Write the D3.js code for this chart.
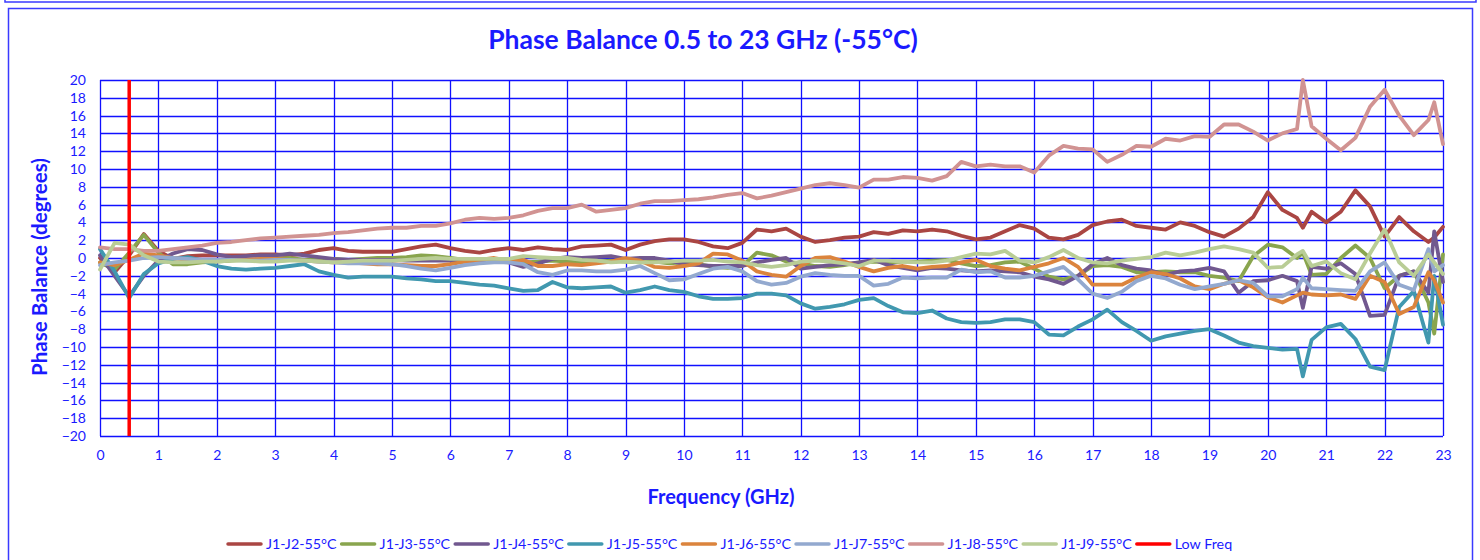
<!DOCTYPE html>
<html>
<head>
<meta charset="utf-8">
<script src="https://cdn.jsdelivr.net/npm/d3@7"></script>
<style>
  body { margin: 0; background: white; }
  text { font-family: Lato, "Open Sans", sans-serif; fill: #1a1aff; }
</style>
</head>
<body>
<div id="chart"></div>
<script>
// Frequency points (GHz)
const freq = [
  0, 0.25, 0.5, 0.75, 1, 1.25, 1.5, 1.75, 2, 2.25, 2.5, 2.75,
  3, 3.25, 3.5, 3.75, 4, 4.25, 4.5, 4.75, 5, 5.25, 5.5, 5.75,
  6, 6.25, 6.5, 6.75, 7, 7.25, 7.5, 7.75, 8, 8.25, 8.5, 8.75,
  9, 9.25, 9.5, 9.75, 10, 10.25, 10.5, 10.75, 11, 11.25, 11.5, 11.75,
  12, 12.25, 12.5, 12.75, 13, 13.25, 13.5, 13.75, 14, 14.25, 14.5, 14.75,
  15, 15.25, 15.5, 15.75, 16, 16.25, 16.5, 16.75, 17, 17.25, 17.5, 17.75,
  18, 18.25, 18.5, 18.75, 19, 19.25, 19.5, 19.75, 20, 20.25, 20.5, 20.6, 20.75,
  21, 21.25, 21.5, 21.75, 22, 22.25, 22.5, 22.75, 22.85, 23
];

// Phase balance values (degrees), one array per port pair
const j2 = [
  0.0, -1.6, 0.3, 2.7, 0.8, -0.1, 0.2, 0.3, 0.3, 0.3, 0.3, 0.4,
  0.4, 0.3, 0.5, 0.9, 1.1, 0.8, 0.7, 0.7, 0.7, 1.0, 1.3, 1.5,
  1.1, 0.8, 0.6, 0.9, 1.1, 0.9, 1.2, 1.0, 0.9, 1.3, 1.4, 1.5,
  0.9, 1.5, 1.9, 2.1, 2.1, 1.8, 1.3, 1.1, 1.7, 3.2, 3.0, 3.3,
  2.4, 1.8, 2.0, 2.3, 2.4, 2.9, 2.7, 3.1, 3.0, 3.2, 3.0, 2.5,
  2.1, 2.3, 3.0, 3.7, 3.3, 2.3, 2.1, 2.6, 3.7, 4.1, 4.3, 3.6,
  3.4, 3.2, 4.0, 3.6, 2.9, 2.4, 3.3, 4.6, 7.4, 5.4, 4.5, 3.4, 5.2,
  4.0, 5.2, 7.6, 5.8, 2.4, 4.6, 3.0, 1.8, 2.3, 3.5
];
const j3 = [
  -0.5, -1.3, 0.6, 2.6, 0.6, -0.7, -0.7, -0.5, -0.4, -0.3, -0.2, -0.2,
  -0.1, 0.0, -0.2, -0.1, -0.1, -0.2, -0.1, 0.0, 0.0, 0.1, 0.3, 0.2,
  0.0, -0.2, -0.3, -0.4, -0.3, -0.5, -0.4, -0.3, -0.4, -0.5, -0.4, -0.3,
  -0.4, -0.5, -0.4, -0.6, -0.5, -0.7, -1.0, -1.1, -0.9, 0.6, 0.3, -0.4,
  -0.6, -0.9, -1.0, -0.8, -0.5, -0.4, -0.5, -0.4, -0.4, -0.3, -0.2, -0.6,
  -0.9, -0.8, -0.5, -0.4, -1.2, -2.1, -2.4, -2.0, -0.9, -0.8, -1.0, -1.6,
  -1.6, -1.5, -1.6, -1.6, -2.0, -2.2, -2.6, 0.2, 1.5, 1.2, 0.0, 0.6, -1.9,
  -1.8, 0.0, 1.4, 0.0, -3.4, -2.0, -1.5, -5.0, -8.5, 0.4
];
const j4 = [
  0.3, -2.0, -4.3, -2.0, -0.3, 0.5, 1.0, 0.9, 0.4, 0.1, 0.2, 0.3,
  0.3, 0.5, 0.3, 0.1, -0.1, -0.2, -0.2, -0.2, -0.2, -0.3, -0.3, -0.3,
  -0.3, -0.4, -0.4, -0.4, -0.5, -1.0, -0.6, -0.1, 0.1, 0.0, 0.1, 0.2,
  -0.1, 0.0, 0.0, -0.3, -0.7, -0.8, -0.9, -0.9, -0.9, -0.5, -0.2, 0.0,
  -1.2, -1.0, -0.8, -0.7, -0.5, -0.2, -0.8, -1.1, -1.4, -1.1, -1.2, -1.4,
  -1.5, -1.4, -1.5, -1.6, -2.1, -2.4, -2.9, -2.0, -0.7, 0.0, -0.8, -1.2,
  -1.4, -1.9, -1.5, -1.4, -1.1, -1.5, -3.9, -2.6, -2.5, -2.0, -2.6, -5.6, -1.0,
  -1.2, -0.6, -1.8, -6.5, -6.4, -2.0, -1.5, -3.9, 3.0, -2.7
];
const j5 = [
  1.0, -1.5, -4.5, -1.8, -0.6, -0.1, 0.1, -0.3, -0.9, -1.2, -1.3, -1.2,
  -1.1, -0.9, -0.7, -1.5, -1.9, -2.2, -2.1, -2.1, -2.1, -2.3, -2.4, -2.6,
  -2.6, -2.8, -3.0, -3.1, -3.4, -3.7, -3.6, -2.7, -3.3, -3.4, -3.3, -3.2,
  -3.9, -3.6, -3.2, -3.6, -3.8, -4.3, -4.6, -4.6, -4.5, -4.0, -4.0, -4.2,
  -5.1, -5.7, -5.5, -5.2, -4.7, -4.5, -5.4, -6.1, -6.2, -5.9, -6.8, -7.2,
  -7.3, -7.2, -6.9, -6.9, -7.2, -8.6, -8.7, -7.7, -6.9, -5.8, -7.2, -8.2,
  -9.3, -8.8, -8.5, -8.2, -8.0, -8.7, -9.5, -9.9, -10.1, -10.3, -10.2, -13.3, -9.2,
  -7.8, -7.4, -9.1, -12.2, -12.6, -5.5, -3.7, -9.5, -2.0, -7.5
];
const j6 = [
  -0.5, -0.8, -0.2, 0.5, 0.3, 0.0, -0.2, -0.3, -0.3, -0.2, -0.2, -0.1,
  -0.1, -0.2, -0.3, -0.4, -0.5, -0.5, -0.6, -0.7, -0.7, -0.8, -0.9, -0.9,
  -0.7, -0.4, -0.2, 0.0, -0.3, -0.2, -0.9, -0.9, -0.7, -0.8, -0.6, -0.4,
  0.0, -0.3, -1.0, -1.1, -0.9, -0.6, 0.5, 0.4, -0.3, -1.5, -1.9, -2.1,
  -0.9, 0.0, 0.1, -0.4, -1.0, -1.5, -1.1, -0.9, -1.2, -1.0, -0.9, -0.5,
  -0.2, -0.9, -1.2, -1.4, -1.0, -0.6, 0.0, -1.0, -3.0, -3.0, -3.0, -2.2,
  -1.6, -1.8, -2.3, -3.2, -3.5, -2.9, -2.5, -3.3, -4.4, -5.0, -4.2, -3.9, -4.1,
  -4.2, -4.1, -4.6, -2.0, -2.7, -6.3, -5.5, -1.6, -2.5, -5.0
];
const j7 = [
  -0.8, -0.5, -0.3, 0.0, 0.1, 0.0, -0.1, -0.2, -0.2, -0.2, -0.3, -0.3,
  -0.2, -0.2, -0.3, -0.4, -0.5, -0.6, -0.6, -0.6, -0.7, -0.9, -1.2, -1.4,
  -1.1, -0.8, -0.6, -0.5, -0.5, -0.7, -1.6, -1.9, -1.4, -1.4, -1.5, -1.5,
  -1.3, -0.9, -1.7, -2.5, -2.4, -1.8, -1.2, -1.0, -1.5, -2.6, -3.0, -2.8,
  -2.1, -1.7, -1.9, -2.0, -2.0, -3.1, -2.9, -2.2, -2.3, -2.2, -2.2, -1.3,
  -1.6, -1.5, -2.2, -2.2, -2.0, -1.5, -1.0, -2.4, -4.0, -4.5, -3.8, -2.6,
  -2.0, -2.3, -3.0, -3.5, -3.2, -2.9, -2.5, -2.8, -4.3, -4.3, -3.5, -2.2, -3.4,
  -3.5, -3.6, -3.7, -1.5, -0.5, -3.0, -3.6, 1.0, -1.5, -0.8
];
const j8 = [
  1.2, 1.0, 1.0, 0.8, 0.8, 1.0, 1.2, 1.4, 1.7, 1.8, 2.0, 2.2,
  2.3, 2.4, 2.5, 2.6, 2.8, 2.9, 3.1, 3.3, 3.4, 3.4, 3.6, 3.6,
  3.9, 4.3, 4.5, 4.4, 4.5, 4.8, 5.3, 5.6, 5.6, 6.0, 5.2, 5.4,
  5.6, 6.1, 6.4, 6.4, 6.5, 6.6, 6.8, 7.1, 7.3, 6.7, 7.0, 7.4,
  7.8, 8.2, 8.4, 8.2, 7.9, 8.8, 8.8, 9.1, 9.0, 8.7, 9.2, 10.8,
  10.3, 10.5, 10.3, 10.3, 9.6, 11.5, 12.6, 12.3, 12.2, 10.8, 11.6, 12.6,
  12.5, 13.4, 13.2, 13.7, 13.6, 15.0, 15.0, 14.2, 13.2, 14.0, 14.5, 20.0, 14.8,
  13.4, 12.1, 13.5, 17.0, 18.9, 16.0, 13.8, 15.5, 17.5, 12.8
];
const j9 = [
  -1.3, 1.7, 1.5, 0.3, -0.4, -0.5, -0.5, -0.4, -0.4, -0.3, -0.3, -0.4,
  -0.4, -0.3, -0.3, -0.4, -0.5, -0.4, -0.3, -0.3, -0.3, -0.2, -0.1, 0.0,
  -0.1, -0.1, -0.1, -0.1, -0.1, 0.2, 0.1, 0.0, 0.0, -0.2, -0.3, -0.5,
  -0.4, -0.5, -0.5, -0.4, -0.3, -0.3, -0.2, -0.4, -0.5, -0.8, -1.0, -0.8,
  -0.4, -0.3, -0.4, -0.6, -0.9, -0.3, -0.3, -0.4, -0.5, -0.5, -0.3, 0.1,
  0.5, 0.4, 0.8, -0.3, -0.5, 0.1, 0.9, 0.0, -0.5, -0.6, -0.3, -0.1,
  0.1, 0.6, 0.3, 0.6, 1.0, 1.3, 1.0, 0.6, -1.1, -1.0, 0.4, 0.8, -0.9,
  -0.4, -1.7, -2.4, 0.5, 3.2, -0.5, -2.0, 0.4, -0.5, -1.8
];

// Low frequency marker line
const lowFreqX = [0.5, 0.5];
const lowFreqY = [-20, 20];

const seriesNames = ['J1-J2-55°C', 'J1-J3-55°C', 'J1-J4-55°C', 'J1-J5-55°C',
                     'J1-J6-55°C', 'J1-J7-55°C', 'J1-J8-55°C', 'J1-J9-55°C'];
const seriesValues = [j2, j3, j4, j5, j6, j7, j8, j9];
const colors = ['#AA4643', '#89A54E', '#71588F', '#4198AF',
                '#DB843D', '#93A9CF', '#D19392', '#B9CD96'];

const xTicks = d3.range(0, 24, 1);
const yTicks = d3.range(-20, 22, 2);

// Dimensions
let width = 1480,
    height = 560;

let margin = { top: 80, bottom: 124, left: 100, right: 37 };

let svg = d3.select('#chart')
            .append('svg')
            .attr('width', width)
            .attr('height', height)
            .style('display', 'block');

// Frames
svg.append('path')
    .attr('d', 'M5,-5 V2 H1476 V-5')
    .attr('fill', 'none')
    .attr('stroke', '#3a3aff')
    .attr('stroke-width', 1.5);

svg.append('rect')
    .attr('x', 8.5)
    .attr('y', 8.5)
    .attr('width', 1464)
    .attr('height', 570)
    .attr('fill', 'white')
    .attr('stroke', '#3a3aff')
    .attr('stroke-width', 1.5);

// Scales
let xScale = d3.scaleLinear()
            .domain([0, 23])
            .range([margin.left, width - margin.right]);

let yScale = d3.scaleLinear()
            .domain([-20, 20])
            .range([height - margin.bottom, margin.top]);

// Grid lines
let grid = svg.append('g');
grid.selectAll('.hgrid')
    .data(yTicks)
    .enter().append('line')
    .attr('x1', xScale(0))
    .attr('x2', xScale(23))
    .attr('y1', d => Math.round(yScale(d)) + 0.5)
    .attr('y2', d => Math.round(yScale(d)) + 0.5)
    .attr('stroke', '#1010ff')
    .attr('stroke-width', 1.3);

grid.selectAll('.vgrid')
    .data(xTicks)
    .enter().append('line')
    .attr('x1', d => Math.round(xScale(d)) + 0.5)
    .attr('x2', d => Math.round(xScale(d)) + 0.5)
    .attr('y1', yScale(20))
    .attr('y2', yScale(-20))
    .attr('stroke', '#1010ff')
    .attr('stroke-width', 1.3);

// Axes (labels only, lines come from grid)
let yAxis = svg.append('g')
            .attr('transform', `translate(${margin.left - 14}, 0)`)
            .call(d3.axisLeft(yScale).tickValues(yTicks).tickSize(0).tickPadding(0));
yAxis.select('.domain').remove();
yAxis.selectAll('text')
    .style('font-size', '14px')
    .attr('fill', '#1a1aff');

let xAxis = svg.append('g')
            .attr('transform', `translate(0, ${yScale(-20) + 14})`)
            .call(d3.axisBottom(xScale).tickValues(xTicks).tickSize(0).tickPadding(0));
xAxis.select('.domain').remove();
xAxis.selectAll('text')
    .style('font-size', '14px')
    .attr('fill', '#1a1aff');

// Series lines
let line = d3.line()
            .x((d, i) => xScale(freq[i]))
            .y(d => yScale(d));

seriesValues.forEach(function(vals, k) {
    svg.append('path')
        .datum(vals)
        .attr('d', line)
        .attr('fill', 'none')
        .attr('stroke', colors[k])
        .attr('stroke-width', 3.8)
        .attr('stroke-linejoin', 'round')
        .attr('stroke-linecap', 'round');
});

// Low Freq marker
svg.append('path')
    .datum(lowFreqY)
    .attr('d', d3.line().x((d, i) => xScale(lowFreqX[i])).y(d => yScale(d)))
    .attr('stroke', '#FF0000')
    .attr('stroke-width', 3.5);

// Title
svg.append('text')
    .attr('x', 703)
    .attr('y', 49)
    .text('Phase Balance 0.5 to 23 GHz (-55°C)')
    .style('text-anchor', 'middle')
    .style('font-size', '26.5px')
    .style('font-weight', 'bold');

// x-axis label
svg.append('text')
    .attr('x', 721)
    .attr('y', 504)
    .text('Frequency (GHz)')
    .style('text-anchor', 'middle')
    .style('font-size', '20px')
    .style('font-weight', 'bold');

// y-axis label
svg.append('text')
    .attr('x', -267)
    .attr('y', 47)
    .text('Phase Balance (degrees)')
    .style('text-anchor', 'middle')
    .style('font-size', '20.5px')
    .style('font-weight', 'bold')
    .attr('transform', 'rotate(-90)');

// Legend
const legendNames = seriesNames.concat(['Low Freq']);
const legendColors = colors.concat(['#FF0000']);

const legend = svg.selectAll('.legend')
                    .data(legendNames)
                    .enter().append('g')
                    .attr('class', 'legend')
                    .attr('transform', (d, i) => 'translate(' + (228 + i * 113.6) + ',544)');

legend.append('line')
    .attr('x1', 0)
    .attr('x2', 33)
    .attr('stroke', (d, i) => legendColors[i])
    .attr('stroke-width', 3.5)
    .attr('stroke-linecap', 'round');

legend.append('text')
    .attr('x', 38)
    .attr('y', 5)
    .text(d => d)
    .style('font-size', '14.3px');
</script>
</body>
</html>
